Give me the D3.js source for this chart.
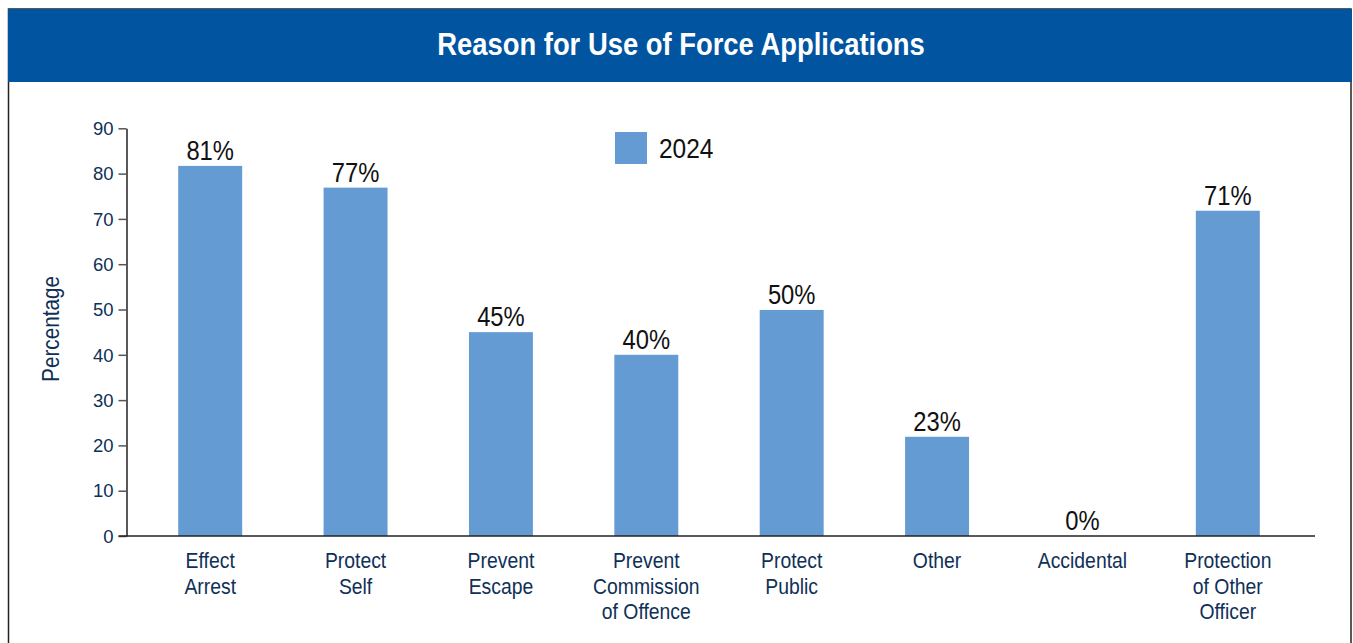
<!DOCTYPE html>
<html>
<head>
<meta charset="utf-8">
<script src="https://cdn.jsdelivr.net/npm/d3@7"></script>
<style>
  html, body { margin: 0; padding: 0; background: #ffffff; }
  svg { display: block; }
</style>
</head>
<body>
<script>
// ---- Data ----
const title = "Reason for Use of Force Applications";
const categories = [
  ["Effect", "Arrest"],
  ["Protect", "Self"],
  ["Prevent", "Escape"],
  ["Prevent", "Commission", "of Offence"],
  ["Protect", "Public"],
  ["Other"],
  ["Accidental"],
  ["Protection", "of Other", "Officer"]
];
const values2024 = [81.7, 76.9, 45.0, 40.0, 49.9, 21.9, 0, 71.8];
const valueLabels = ["81%", "77%", "45%", "40%", "50%", "23%", "0%", "71%"];
const yTicks = [0, 10, 20, 30, 40, 50, 60, 70, 80, 90];
const seriesName = "2024";
const yAxisTitle = "Percentage";

// ---- Layout ----
const W = 1353, H = 643;
const barColor = "#659bd3";
const navy = "#0f3057";
const headerColor = "#0054a0";
const FONT = "'Liberation Sans', Arial, sans-serif";

const svg = d3.select("body").append("svg").attr("width", W).attr("height", H);

// panel
svg.append("rect").attr("x", 8.5).attr("y", 9).attr("width", 1342.5).attr("height", 700)
  .attr("fill", "#fff").attr("stroke", "#222").attr("stroke-width", 1.5);
svg.append("rect").attr("x", 8).attr("y", 9).attr("width", 1344).attr("height", 73)
  .attr("fill", headerColor);
svg.append("text").attr("transform", "translate(681,55) scale(0.87,1)")
  .attr("text-anchor", "middle")
  .attr("fill", "#fff").attr("font-family", FONT)
  .attr("font-weight", "bold").attr("font-size", 31.5).text(title);

const plotLeft = 126.5, plotRight = 1315;
const y = d3.scaleLinear().domain([0, 90]).range([536, 128.3]);
const x = d3.scaleBand().domain(d3.range(categories.length)).range([137.5, 1300.5])
  .paddingInner(0.56).paddingOuter(0.28);

// y axis
const yAxis = d3.axisLeft(y).tickValues(yTicks).tickSize(8).tickSizeOuter(0).tickPadding(5);
const gy = svg.append("g").attr("transform", `translate(${plotLeft},0)`).call(yAxis);
gy.select(".domain").attr("stroke", "#222").attr("stroke-width", 1.5);
gy.selectAll(".tick line").attr("stroke", "#555").attr("stroke-width", 1.5);
gy.selectAll(".tick text").attr("fill", navy)
  .attr("font-family", FONT).attr("font-size", 18.5)
  .attr("dy", "0.34em");

// bars
svg.append("g").selectAll("rect").data(values2024).join("rect")
  .attr("x", (d, i) => x(i)).attr("width", x.bandwidth())
  .attr("y", d => y(d)).attr("height", d => y(0) - y(d))
  .attr("fill", barColor);

// x axis baseline
svg.append("line").attr("x1", plotLeft - 8).attr("x2", plotRight)
  .attr("y1", y(0)).attr("y2", y(0)).attr("stroke", "#222").attr("stroke-width", 1.5);

// value labels
svg.append("g").selectAll("text").data(values2024).join("text")
  .attr("transform", (d, i) => `translate(${x(i) + x.bandwidth() / 2},${y(d) - 6}) scale(0.85,1)`)
  .attr("text-anchor", "middle").attr("fill", "#111")
  .attr("font-family", FONT).attr("font-size", 28)
  .text((d, i) => valueLabels[i]);

// category labels
const cat = svg.append("g").selectAll("text").data(categories).join("text")
  .attr("transform", (d, i) => `translate(${x(i) + x.bandwidth() / 2},568) scale(0.88,1)`)
  .attr("text-anchor", "middle").attr("fill", navy)
  .attr("font-family", FONT).attr("font-size", 22);
cat.selectAll("tspan").data(d => d).join("tspan")
  .attr("x", 0)
  .attr("dy", (d, j) => j === 0 ? 0 : 25.7)
  .text(d => d);

// y axis title
svg.append("text").attr("transform", "translate(59,329) rotate(-90) scale(0.9,1)")
  .attr("text-anchor", "middle").attr("fill", navy)
  .attr("font-family", FONT).attr("font-size", 23)
  .text(yAxisTitle);

// legend
svg.append("rect").attr("x", 615).attr("y", 132).attr("width", 32).attr("height", 32).attr("fill", barColor);
svg.append("text").attr("transform", "translate(659,158) scale(0.875,1)").attr("fill", "#111")
  .attr("font-family", FONT).attr("font-size", 28)
  .text(seriesName);
</script>
</body>
</html>
